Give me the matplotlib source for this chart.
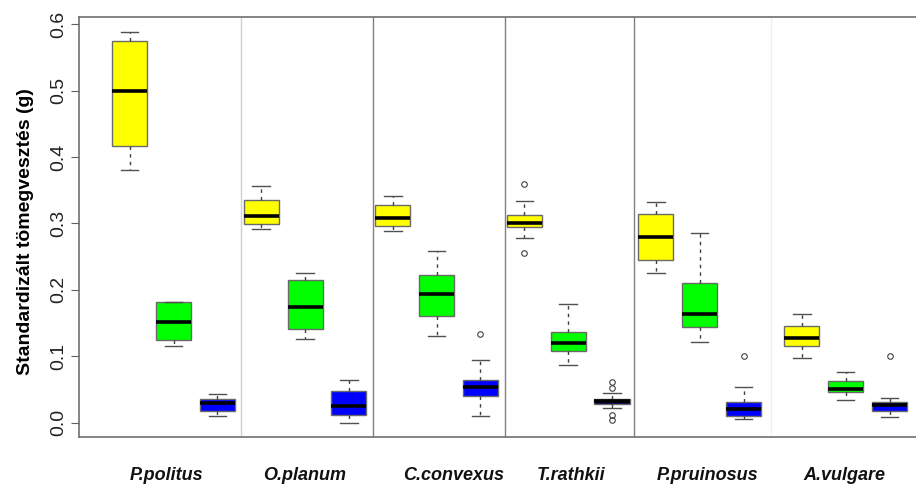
import numpy as np
import matplotlib
matplotlib.use("Agg")
import matplotlib.pyplot as plt

species = ["P.politus", "O.planum", "C.convexus", "T.rathkii", "P.pruinosus", "A.vulgare"]
colors = ["#ffff00", "#00ff00", "#0000ff"]

# five-number summaries, three boxes per species (yellow, green, blue)
whishi = [0.589, 0.181, 0.043,
          0.356, 0.226, 0.065,
          0.341, 0.258, 0.094,
          0.334, 0.178, 0.044,
          0.333, 0.286, 0.053,
          0.164, 0.076, 0.037]
q3 = [0.575, 0.181, 0.036,
      0.336, 0.215, 0.047,
      0.328, 0.223, 0.065,
      0.313, 0.137, 0.035,
      0.315, 0.210, 0.031,
      0.145, 0.063, 0.031]
med = [0.500, 0.151, 0.029,
       0.311, 0.174, 0.025,
       0.309, 0.194, 0.054,
       0.301, 0.120, 0.032,
       0.279, 0.163, 0.020,
       0.128, 0.050, 0.027]
q1 = [0.416, 0.125, 0.0175,
      0.299, 0.141, 0.011,
      0.296, 0.161, 0.040,
      0.294, 0.108, 0.028,
      0.245, 0.144, 0.010,
      0.115, 0.046, 0.017]
whislo = [0.381, 0.115, 0.010,
          0.292, 0.126, 0.000,
          0.289, 0.130, 0.010,
          0.278, 0.087, 0.0216,
          0.226, 0.122, 0.006,
          0.098, 0.034, 0.008]
fliers = [[], [], [],
          [], [], [],
          [], [], [0.133],
          [0.360, 0.255], [], [0.062, 0.052, 0.011, 0.0035],
          [], [], [0.100],
          [], [], [0.101]]

plt.rcParams["font.family"] = ["Liberation Sans", "DejaVu Sans"]

fig = plt.figure(figsize=(9.16, 4.84), dpi=100)
ax = fig.add_axes([0.0866, 0.0965, 0.9156, 0.869])

# box positions: 15 evenly spaced, last group pushed a bit to the right
pos = list(np.arange(1, 16)) + [16.33, 17.33, 18.33]

stats = []
for i in range(len(med)):
    stats.append(dict(med=med[i], q1=q1[i], q3=q3[i],
                      whislo=whislo[i], whishi=whishi[i], fliers=fliers[i]))

bp = ax.bxp(stats, positions=pos, widths=0.8, patch_artist=True,
            showfliers=True,
            boxprops=dict(edgecolor="#6a6a6a", linewidth=1.0),
            medianprops=dict(color="black", linewidth=2.6),
            whiskerprops=dict(color="#404040", linestyle=(0, (2.5, 3)), linewidth=1.0),
            capprops=dict(color="#505050", linewidth=1.0),
            capwidths=0.4,
            flierprops=dict(marker="o", markersize=4, markerfacecolor="none",
                            markeredgecolor="#404040", markeredgewidth=0.8))
for i, box in enumerate(bp["boxes"]):
    box.set_facecolor(colors[i % 3])
# T.rathkii blue box is drawn very dark
bp["boxes"][11].set_facecolor("#000050")

# separators between species
seps = [3.54, 6.54, 9.55, 12.5, 15.62]
sep_cols = ["#d0d0d0", "#808080", "#808080", "#808080", "#f0f0f0"]
for s, c in zip(seps, sep_cols):
    ax.axvline(s, color=c, linewidth=1.0, zorder=0)

ax.set_xlim(-0.149, 18.98)
ax.set_ylim(-0.022, 0.6114)
ax.set_yticks([0.0, 0.1, 0.2, 0.3, 0.4, 0.5, 0.6])
ax.set_yticklabels(["0.0", "0.1", "0.2", "0.3", "0.4", "0.5", "0.6"],
                   rotation=90, va="center", fontsize=14, color="#222222")
ax.tick_params(axis="y", length=6, width=0.8, color="#606060", pad=3)
ax.set_xticks([])
for sp in ax.spines.values():
    sp.set_color("#707070")
    sp.set_linewidth(1.2)

ax.set_ylabel("Standardizált tömegvesztés (g)", fontsize=14, fontweight="bold")
ax.yaxis.set_label_coords(-0.054, 0.49)

label_pos = [1.84, 4.99, 8.38, 11.06, 14.18, 17.29]
for name, x in zip(species, label_pos):
    ax.text(x, -0.0795, name, ha="center", va="center", fontsize=13,
            fontweight="bold", fontstyle="italic", color="#111111")

fig.savefig("out.png", dpi=100)
